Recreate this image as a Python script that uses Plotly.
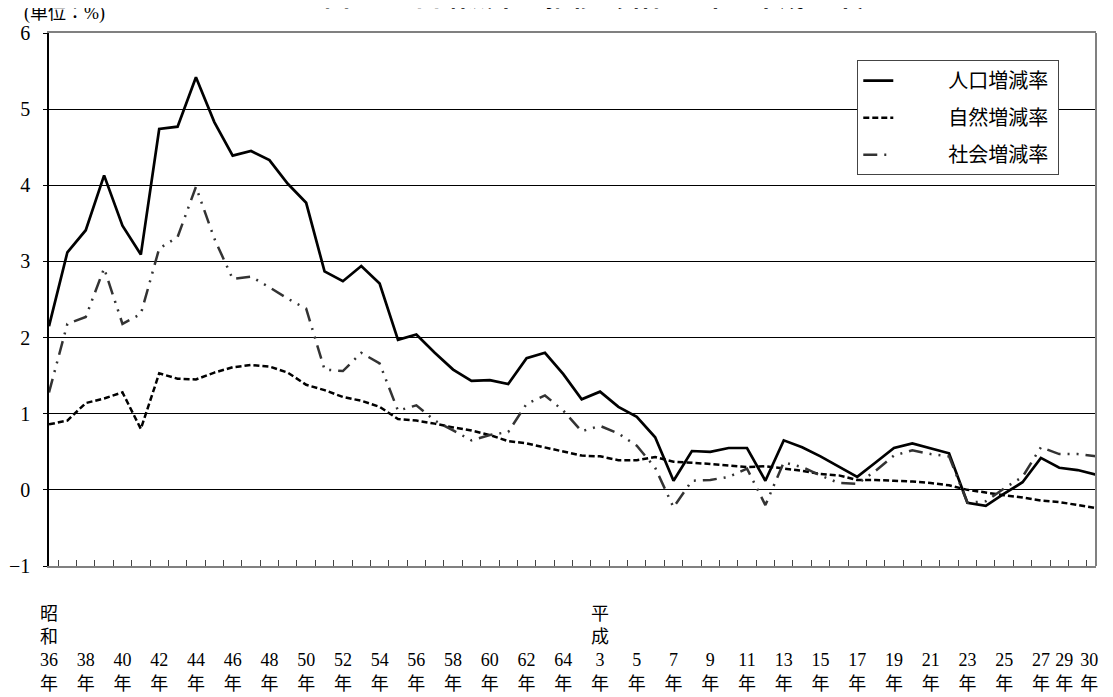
import plotly.graph_objects as go

# 昭和36年～昭和64年, 平成2年～平成30年
years = ["S%d" % y for y in range(36, 65)] + ["H%d" % y for y in range(2, 31)]

total_rate = [2.15, 3.12, 3.41, 4.13, 3.47, 3.09, 4.74, 4.77, 5.42, 4.83,
              4.39, 4.45, 4.33, 4.02, 3.77, 2.87, 2.74, 2.94, 2.71, 1.97,
              2.04, 1.80, 1.58, 1.43, 1.44, 1.39, 1.73, 1.80, 1.52, 1.19,
              1.29, 1.09, 0.96, 0.69, 0.12, 0.51, 0.50, 0.55, 0.55, 0.12,
              0.65, 0.56, 0.44, 0.30, 0.17, 0.36, 0.55, 0.61, 0.55, 0.48,
              -0.17, -0.21, -0.05, 0.10, 0.42, 0.29, 0.26, 0.20]

natural_rate = [0.86, 0.91, 1.14, 1.20, 1.28, 0.80, 1.53, 1.46, 1.45, 1.54,
                1.61, 1.64, 1.62, 1.54, 1.38, 1.31, 1.22, 1.17, 1.09, 0.93,
                0.91, 0.87, 0.82, 0.78, 0.72, 0.64, 0.61, 0.56, 0.50, 0.45,
                0.44, 0.39, 0.39, 0.43, 0.37, 0.36, 0.34, 0.32, 0.30, 0.31,
                0.28, 0.25, 0.21, 0.19, 0.13, 0.13, 0.12, 0.11, 0.09, 0.06,
                0.00, -0.04, -0.07, -0.10, -0.14, -0.16, -0.20, -0.24]

social_rate = [1.28, 2.18, 2.27, 2.91, 2.18, 2.31, 3.17, 3.32, 3.98, 3.30,
               2.77, 2.80, 2.66, 2.51, 2.38, 1.58, 1.56, 1.80, 1.66, 1.04,
               1.11, 0.91, 0.78, 0.65, 0.72, 0.76, 1.13, 1.24, 1.04, 0.77,
               0.84, 0.74, 0.58, 0.29, -0.23, 0.12, 0.13, 0.17, 0.28, -0.20,
               0.36, 0.30, 0.19, 0.09, 0.08, 0.25, 0.45, 0.52, 0.47, 0.44,
               -0.17, -0.15, 0.02, 0.17, 0.56, 0.47, 0.47, 0.44]

series_names = ["人口増減率", "自然増減率", "社会増減率"]

blank = "\u3000"
nb = "\u00a0"
tick_text = []
for y in years:
    num = int(y[1:])
    if y == "S36":
        tick_text.append("昭<br>和<br>36<br>年")
    elif y == "H3":
        tick_text.append("平<br>成<br>3<br>年")
    elif y == "H29":
        # nudged left so it does not run into 30
        pad = nb * 6
        tick_text.append(blank + "<br>" + blank + "<br>29" + pad + "<br>年" + pad)
    elif y == "H30":
        pad = nb * 3
        tick_text.append(blank + "<br>" + blank + "<br>30" + pad + "<br>年" + pad)
    elif (y[0] == "S" and num % 2 == 0) or (y[0] == "H" and num % 2 == 1):
        tick_text.append(blank + "<br>" + blank + "<br>" + str(num) + "<br>年")
    else:
        tick_text.append("")

FONT = "Liberation Serif, Noto Sans CJK JP"
lead = blank * 2 + nb * 2
trail = nb

fig = go.Figure()
fig.add_trace(go.Scatter(x=years, y=total_rate, mode="lines",
                         name=lead + series_names[0] + trail, legendgroup="a",
                         line=dict(color="black", width=2.7)))
fig.add_trace(go.Scatter(x=years, y=natural_rate, mode="lines",
                         name=lead + series_names[1] + trail, legendgroup="b",
                         line=dict(color="black", width=2.5, dash="6px,3px")))
fig.add_trace(go.Scatter(x=years, y=social_rate, mode="lines",
                         name=lead + series_names[2] + trail, legendgroup="c",
                         line=dict(color="#333333", width=2.5,
                                   dash="14px,7px,2px,7px,2px,7px")))

# page is drawn with an 8px body margin, so the figure is 1105x689
fig.update_layout(
    width=1105, height=689,
    margin=dict(l=41, r=17, t=25, b=131),
    paper_bgcolor="white", plot_bgcolor="white",
    font=dict(family=FONT, size=18, color="black"),
    showlegend=True,
    legend=dict(x=0.772, y=0.949, xanchor="left", yanchor="top",
                bgcolor="white", bordercolor="#444", borderwidth=1,
                font=dict(size=20), tracegroupgap=8),
)

fig.update_xaxes(
    type="category", tickmode="array", tickvals=years, ticktext=tick_text,
    tickangle=0, tickson="boundaries", ticks="inside", ticklen=6,
    tickcolor="#444", showline=True, linecolor="#808080", linewidth=2,
    mirror=True, showgrid=False, ticklabelstandoff=30, automargin=False,
    tickfont=dict(size=18),
)
fig.update_yaxes(
    range=[-1, 6], dtick=1, showgrid=True, gridcolor="black", gridwidth=1,
    zeroline=True, zerolinecolor="black", zerolinewidth=1,
    showline=True, linecolor="black", linewidth=1.5, automargin=False,
    ticks="outside", ticklen=4, tickcolor="black", ticklabelstandoff=9,
    tickfont=dict(size=20),
)

# right frame line
fig.add_shape(type="line", xref="paper", yref="paper", x0=1, x1=1, y0=0, y1=1,
              line=dict(color="#808080", width=2))

fig.add_annotation(text="<b>図3　人口増減率の推移（昭和36年～平成30年）</b>",
                   xref="paper", yref="paper", x=0.53, y=1, yshift=19,
                   xanchor="center", yanchor="bottom", showarrow=False,
                   font=dict(size=26))
fig.add_annotation(text="(単位：%)", xref="paper", yref="paper",
                   x=0, y=1, xshift=-27, yshift=7, xanchor="left",
                   yanchor="bottom", showarrow=False, font=dict(size=18))

fig.write_html("out.html")
